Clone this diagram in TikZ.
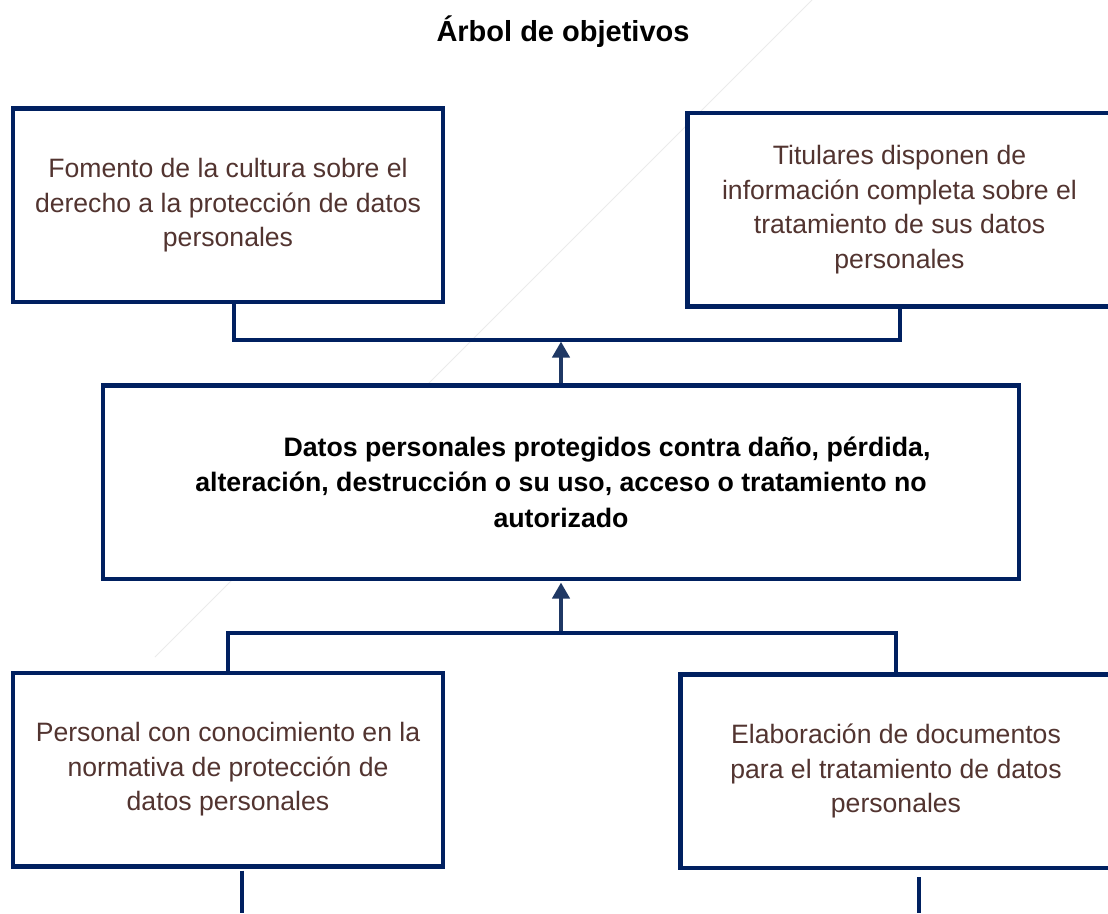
\documentclass[tikz,border=0pt]{standalone}
\usepackage{fontspec}
\setmainfont{Liberation Sans}
\usepackage[dvipsnames]{xcolor}
\usetikzlibrary{arrows.meta}

\definecolor{boxblue}{RGB}{0,32,96}
\definecolor{arrowblue}{RGB}{31,56,100}
\definecolor{textbrown}{RGB}{82,52,48}

\begin{document}
\begin{tikzpicture}[x=1pt,y=-1pt,>={Triangle[length=16pt,width=17pt]},
    obj node/.style={rectangle,draw=boxblue,line width=4.5pt,fill=white,minimum height=193.5pt,align=center,text=textbrown,font=\fontsize{26.6}{34.5}\selectfont},
    main node/.style={obj node,text=black,font=\bfseries\fontsize{26.7}{35.5}\selectfont},
    tree line/.style={draw=boxblue,line width=4pt},
    up arrow/.style={->,draw=arrowblue,line width=4pt,shorten >=1.5pt}]
                \clip (0,0) rectangle (1108,913);
                \fill[white] (0,0) rectangle (1108,913);
                \draw[black!8,line width=1pt] (812,0) -- (155,657);

                \node[font=\bfseries\fontsize{29}{34}\selectfont] (title) at (563,32) {Árbol de objetivos};

                \node[obj node,minimum width=430pt] (f1) at (228,205.25) {Fomento de la cultura sobre el\\ derecho a la protección de datos\\ personales};
                \node[obj node,minimum width=424pt] (f2) at (899.5,209.75) {Titulares disponen de\\ información completa sobre el\\ tratamiento de sus datos\\ personales};
                \node[main node,minimum width=916pt] (obj) at (561,482) {\hspace*{92pt}Datos personales protegidos contra daño, pérdida,\\ alteración, destrucción o su uso, acceso o tratamiento no\\ autorizado};
                \node[obj node,minimum width=430pt] (m1) at (228,769.5) {Personal con conocimiento en la\\ normativa de protección de\\ datos personales};
                \node[obj node,minimum width=431.5pt] (m2) at (896,771.25) {Elaboración de documentos\\ para el tratamiento de datos\\ personales};

                \coordinate (top) at (561,340);
                \coordinate (bot) at (561,632.5);
                \coordinate (e1) at (242,913);
                \coordinate (e2) at (918.5,913);

                \draw[up arrow] (obj.north) -- (top);
                \draw[up arrow] (bot) -- (obj.south);
                \path[tree line] ([xshift=6pt]f1.south) |- (top) -| (f2.south);
                \path[tree line] (m1.north) |- (bot) -| (m2.north);
                \path[tree line,shorten <=2pt] ([xshift=14pt]m1.south) -- (e1);
                \path[tree line,shorten <=7pt] ([xshift=22.5pt]m2.south) -- (e2);
            \end{tikzpicture}
\end{document}
